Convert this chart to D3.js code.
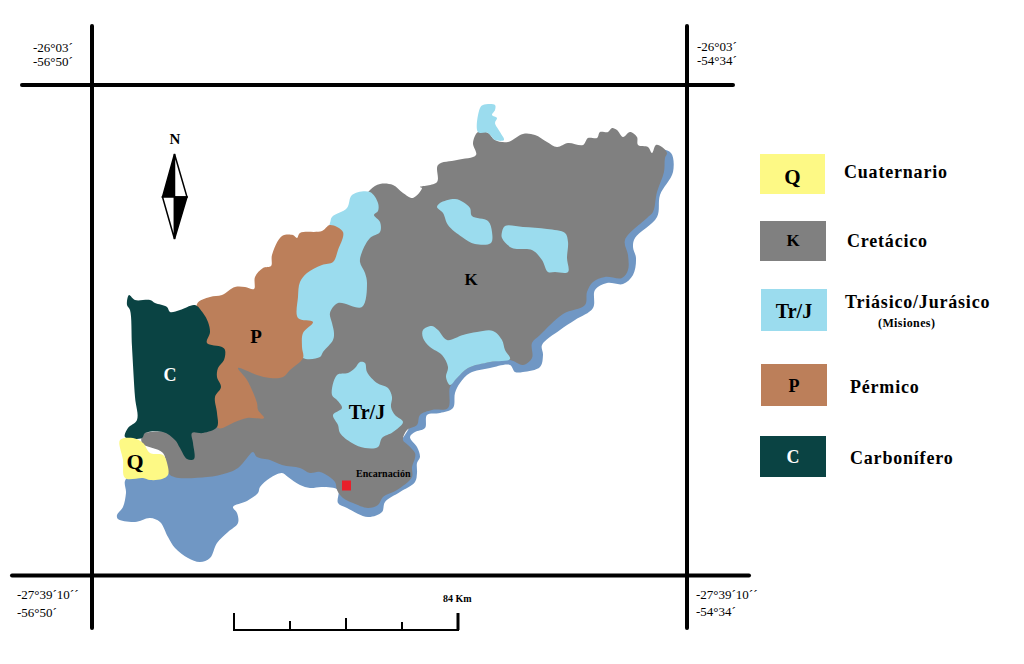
<!DOCTYPE html>
<html><head><meta charset="utf-8">
<script src="https://cdn.jsdelivr.net/npm/d3@7/dist/d3.min.js"></script>
<style>html,body{margin:0;padding:0;background:#fff}svg{display:block}text{font-family:"Liberation Serif",serif;font-weight:bold}</style>
</head><body><svg id="c" width="1024" height="664"></svg>
<script>
const riverZone=[[126,479],[126,493],[123,507],[117,515],[118,519],[135,522],[150,518],[160,522],[168,537],[175,548],[188,558],[200,562],[210,558],[217,543],[228,532],[238,523],[237,513],[233,507],[247,501],[258,493],[260,487],[270,478],[282,473],[288,477],[300,485],[310,488],[322,487],[338,490],[338,503],[347,508],[368,517],[382,512],[385,502],[400,492],[415,482],[417,473],[417,463],[420,457],[417,447],[410,437],[415,432],[425,428],[427,415],[440,413],[453,408],[455,393],[460,383],[470,373],[490,368],[510,365],[515,372],[523,372],[540,367],[543,355],[542,345],[560,330],[575,320],[593,308],[595,290],[607,283],[623,284],[633,275],[636,258],[633,247],[635,238],[657,217],[660,195],[673,172],[671,153],[660,150],[650,165],[640,200],[610,260],[570,290],[520,320],[480,340],[430,390],[390,450],[300,450],[250,445],[200,460]];
const cretacico=[[420,187],[437,182],[438,165],[457,160],[476,155],[473,143],[478,132],[488,133],[495,140],[508,142],[523,134],[535,135],[547,142],[557,147],[568,143],[583,145],[588,138],[597,138],[600,132],[608,132],[612,128],[617,130],[623,137],[630,132],[637,137],[638,145],[648,147],[652,153],[656,145],[662,147],[667,153],[665,158],[664,172],[657,192],[653,212],[647,218],[625,240],[628,255],[628,270],[622,278],[605,277],[593,282],[587,292],[585,305],[563,314],[540,335],[532,343],[532,358],[523,365],[510,360],[490,362],[468,368],[457,378],[450,387],[448,408],[432,410],[420,415],[417,425],[407,430],[403,440],[408,445],[415,453],[415,458],[412,467],[412,477],[397,490],[383,497],[378,505],[368,508],[353,503],[343,498],[337,490],[335,482],[320,472],[310,473],[300,468],[282,465],[270,460],[257,457],[253,452],[247,458],[238,468],[227,473],[207,477],[170,475],[163,453],[142,443],[143,433],[150,432],[230,420],[230,360],[300,320],[350,220],[370,190],[380,184],[393,185],[403,193],[413,198],[422,188]];
const triasicoStrip=[[330,223],[332,217],[347,208],[352,195],[370,192],[378,203],[378,211],[374,215],[380,222],[380,232],[370,238],[362,252],[360,262],[365,273],[367,283],[362,307],[338,303],[330,313],[332,323],[334,333],[333,340],[323,352],[320,357],[303,358],[295,340],[290,280],[320,250]];
const triasicoCentre=[[360,362],[365,363],[367,372],[377,383],[388,388],[392,397],[391,407],[395,415],[403,422],[393,432],[382,438],[378,447],[365,448],[352,443],[340,433],[338,425],[333,415],[342,408],[337,400],[332,395],[337,375],[348,373],[355,368]];
const triasicoEast=[[423,330],[432,326],[438,330],[447,340],[463,335],[477,332],[493,331],[502,340],[505,350],[510,359],[490,362],[468,368],[457,378],[450,385],[446,377],[448,367],[442,355],[430,347],[423,338]];
const triasicoIslandA=[[437,207],[440,203],[455,199],[463,202],[470,208],[472,216],[488,221],[492,232],[491,243],[475,244],[462,237],[448,225],[443,213]];
const triasicoIslandB=[[502,232],[505,226],[523,227],[547,229],[565,233],[568,242],[567,258],[568,272],[555,272],[548,272],[542,260],[532,250],[512,248],[502,238]];
const triasicoNorth=[[478,132],[480,108],[483,105],[495,105],[495,110],[492,115],[497,118],[495,123],[500,132],[504,140],[495,140],[488,133]];
const permico=[[197,304],[210,297],[222,295],[235,287],[245,287],[254,289],[255,277],[263,268],[271,266],[272,255],[282,236],[293,235],[297,238],[300,233],[322,231],[330,225],[343,232],[338,250],[333,262],[322,265],[307,273],[300,282],[298,297],[298,318],[313,322],[303,333],[302,347],[303,358],[290,370],[283,377],[270,378],[257,375],[238,368],[247,380],[257,403],[258,410],[264,418],[247,418],[235,422],[218,428],[210,400],[205,340]];
const carbonifero=[[129,295],[135,300],[150,300],[155,303],[167,307],[170,312],[180,310],[195,305],[203,313],[208,322],[210,332],[207,343],[222,347],[225,350],[224,360],[218,368],[217,377],[221,387],[215,397],[217,413],[217,427],[203,433],[192,433],[193,443],[194,459],[187,459],[180,448],[175,440],[163,432],[145,433],[142,438],[125,437],[128,428],[137,420],[135,397],[132,347],[130,310],[127,305]];
const cuaternario=[[120,440],[133,438],[143,443],[150,453],[163,455],[168,467],[168,475],[162,479],[150,480],[143,478],[125,478],[123,460]];

const legendCodes=["Q","K","Tr/J","P","C"];
const legendNames=["Cuaternario","Cretácico","Triásico/Jurásico","Pérmico","Carbonífero"];
const legendNote="(Misiones)";
const scaleKm=[0,21,42,63,84];
const cornerNW=["-26°03´","-56°50´"], cornerNE=["-26°03´","-54°34´"];
const cornerSW=["-27°39´10´´","-56°50´"], cornerSE=["-27°39´10´´","-54°34´"];

const colour={river:"#7097c4",K:"#808080",TrJ:"#9bdcee",P:"#bc7f5a",C:"#0a4343",Q:"#fdf985"};
const svg=d3.select("#c");
const x=d3.scaleLinear().domain([92,687]).range([92,687]);
const y=d3.scaleLinear().domain([85,575]).range([85,575]);
const outline=d3.line().x(d=>x(d[0])).y(d=>y(d[1])).curve(d3.curveCatmullRomClosed.alpha(0.5));

[[riverZone,colour.river],[cretacico,colour.K],[triasicoStrip,colour.TrJ],[triasicoCentre,colour.TrJ],[triasicoEast,colour.TrJ],[triasicoIslandA,colour.TrJ],[triasicoIslandB,colour.TrJ],[triasicoNorth,colour.TrJ],[permico,colour.P],[carbonifero,colour.C],[cuaternario,colour.Q]]
.forEach(([p,f])=>svg.append("path").attr("d",outline(p)).attr("fill",f));

// frame
const frame=svg.append("g").attr("stroke","#000").attr("stroke-width",4).attr("stroke-linecap","round");
[[22,733,85,85],[12,749,575.5,575.5],[92,92,26,628],[687,687,26,628]].forEach(l=>frame.append("line").attr("x1",l[0]).attr("x2",l[1]).attr("y1",l[2]).attr("y2",l[3]));

const txt=(s,px,py,size,o={})=>svg.append("text").text(s).attr("x",px).attr("y",py).attr("font-size",size)
  .attr("text-anchor",o.anchor||"start").attr("fill",o.fill||"#000").style("font-weight",o.weight||"bold").style("letter-spacing",o.ls||0);
// corner labels
const cn={weight:"normal"};
txt(cornerNW[0],33,52,13,cn);txt(cornerNW[1],33,66,13,cn);
txt(cornerNE[0],697,51,13,cn);txt(cornerNE[1],697,65,13,cn);
txt(cornerSW[0],17,599,13,cn);txt(cornerSW[1],17,617,13,cn);
txt(cornerSE[0],696,599,13,cn);txt(cornerSE[1],696,616,13,cn);

// map labels
txt("K",471,285,17,{anchor:"middle"});
txt("Tr/J",367,419,20,{anchor:"middle"});
txt("P",256,343,19,{anchor:"middle"});
txt("C",170,381,18,{anchor:"middle",fill:"#fff"});
txt("Q",135,469,22,{anchor:"middle"});
txt("Encarnación",356,477,10);
const c=[346.5,485.5];
svg.append("rect").attr("x",x(c[0]-4.5)).attr("y",y(c[1]-5)).attr("width",9).attr("height",10).attr("fill","#e8202a");

// north arrow
txt("N",175,144,15,{anchor:"middle"});
const na=svg.append("g").attr("stroke","#000").attr("stroke-width",1.5).attr("stroke-linejoin","miter");
na.append("path").attr("d","M174.5,154L162.5,197L174.5,197Z").attr("fill","#000");
na.append("path").attr("d","M174.5,154L187,197L174.5,197Z").attr("fill","#fff");
na.append("path").attr("d","M174.5,239L162.5,197L174.5,197Z").attr("fill","#fff");
na.append("path").attr("d","M174.5,239L187,197L174.5,197Z").attr("fill","#000");

// legend
const swatch=[[760,154,65,40,colour.Q,21,184],[760,221,66,40,colour.K,17,246],[761,289,66,42,colour.TrJ,20,318],[761,364,66,42,colour.P,18,392],[760,436,66,41,colour.C,18,463]];
const names=[[844,178],[847,247],[845,308],[850,393],[850,464]];
swatch.forEach((s,i)=>{
  svg.append("rect").attr("x",s[0]).attr("y",s[1]).attr("width",s[2]).attr("height",s[3]).attr("fill",s[4]);
  txt(legendCodes[i],s[0]+s[2]/2,s[6],s[5],{anchor:"middle",fill:i==4?"#fff":"#000"});
  txt(legendNames[i],names[i][0],names[i][1],18,{ls:"0.8px"});
});
txt(legendNote,878,327,12,{ls:"0.4px"});

// scale bar
const km=d3.scaleLinear().domain([0,84]).range([234,458]);
const tickH=[17,9,12,8,17];
const bar=svg.append("g").attr("stroke","#000");
bar.append("line").attr("x1",km(0)-1).attr("x2",km(84)+1).attr("y1",630).attr("y2",630).attr("stroke-width",2);
scaleKm.forEach((k,i)=>bar.append("line").attr("x1",km(k)).attr("x2",km(k)).attr("y1",630).attr("y2",630-tickH[i]).attr("stroke-width",i==4?3:2));
txt("84 Km",443,602,10);
</script></body></html>
